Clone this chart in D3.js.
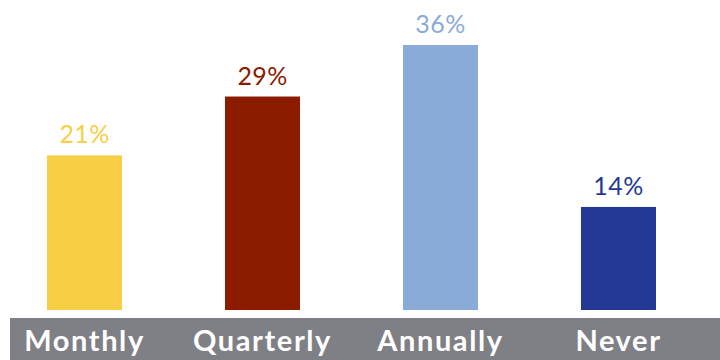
<!DOCTYPE html>
<html>
<head>
<meta charset="utf-8">
<script src="https://cdn.jsdelivr.net/npm/d3@7"></script>
<style>
  html, body { margin: 0; padding: 0; background: #ffffff; }
  svg { display: block; }
</style>
</head>
<body>
<svg id="chart" width="720" height="360"></svg>
<script>
// How often respondents do it
const categories = ["Monthly", "Quarterly", "Annually", "Never"];
const values = [21, 29, 36, 14];
const colors = ["#F7CE46", "#8B1C00", "#8AABD8", "#233894"];

const svg = d3.select("#chart");
const W = 720, H = 360;
const baseY = 310;

const x = d3.scaleBand()
  .domain(categories)
  .range([-4.5, 707.5])
  .paddingInner(0.5787)
  .paddingOuter(0.2894);

const y = d3.scaleLinear()
  .domain([0, 36])
  .range([baseY, 45]);

// grey category strip
svg.append("rect")
  .attr("x", 10).attr("y", 318)
  .attr("width", W - 10).attr("height", H - 318)
  .attr("fill", "#7F8085");

const g = svg.append("g");

g.selectAll("rect.bar")
  .data(values)
  .join("rect")
  .attr("class", "bar")
  .attr("x", (d, i) => x(categories[i]))
  .attr("y", d => y(d))
  .attr("width", x.bandwidth())
  .attr("height", d => baseY - y(d))
  .attr("fill", (d, i) => colors[i]);

g.selectAll("text.val")
  .data(values)
  .join("text")
  .attr("class", "val")
  .attr("x", (d, i) => x(categories[i]) + x.bandwidth() / 2)
  .attr("y", d => y(d) - 12)
  .attr("text-anchor", "middle")
  .attr("font-family", "Lato, 'Open Sans', sans-serif")
  .attr("font-size", 25)
  .attr("letter-spacing", 0.4)
  .attr("fill", (d, i) => colors[i])
  .text(d => d + "%");

// category axis
const axis = d3.axisBottom(x).tickSize(0).tickPadding(0);
const ax = svg.append("g")
  .attr("transform", "translate(0,351)")
  .call(axis);
ax.select(".domain").remove();
ax.selectAll("text")
  .attr("dy", 0)
  .attr("fill", "#ffffff")
  .attr("font-family", "Lato, 'Open Sans', sans-serif")
  .attr("font-weight", 700)
  .attr("font-size", 29)
  .attr("letter-spacing", 1.6);
</script>
</body>
</html>
